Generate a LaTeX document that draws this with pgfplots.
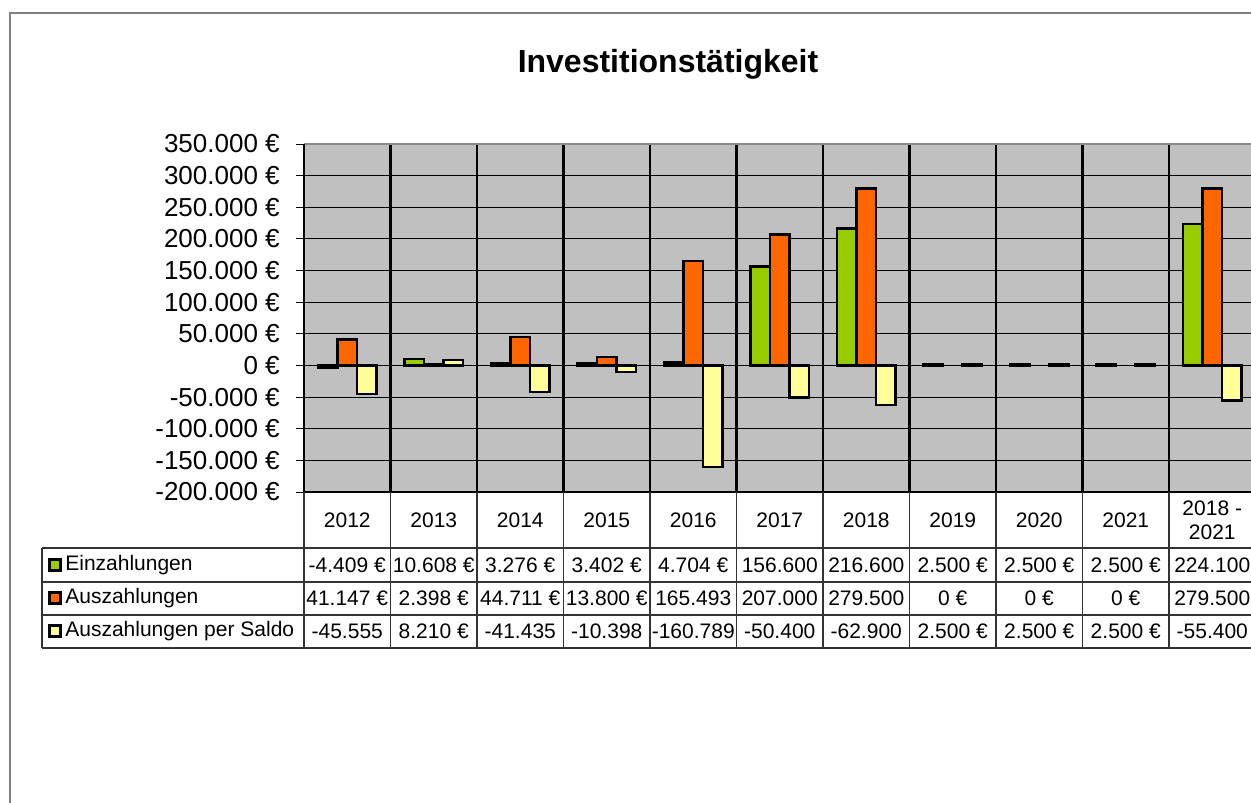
\documentclass[border=0pt]{standalone}
\usepackage{pgfplots}
\pgfplotsset{compat=1.18}
\usepackage{fontspec}
\setmainfont{Liberation Sans}
\definecolor{einz}{RGB}{153,204,0}
\definecolor{ausz}{RGB}{255,102,0}
\definecolor{saldo}{RGB}{255,255,153}
\definecolor{plotbg}{RGB}{192,192,192}
\begin{document}
\begin{tikzpicture}
\useasboundingbox (0pt,0pt) rectangle (750.6pt,-481.8pt);
\clip (0pt,0pt) rectangle (750.6pt,-481.8pt);
\begin{axis}[
  scale only axis,
  width=570.9pt, height=208.8pt,
  at={(182.4pt,-295.2pt)}, anchor=south west,
  xmin=-0.5, xmax=10.5,
  ymin=-200000, ymax=350000,
  scaled y ticks=false,
  ybar=0pt, bar width=11.7pt,
  axis line style={draw=none},
  axis background/.style={fill=plotbg},
  xtick={-0.5,0.5,1.5,2.5,3.5,4.5,5.5,6.5,7.5,8.5,9.5,10.5},
  xticklabels={},
  xtick style={draw=none},
  xmajorgrids,
  x grid style={black, line width=1.3pt},
  ytick={-200000,-150000,-100000,-50000,0,50000,100000,150000,200000,250000,300000,350000},
  yticklabels={-200.000 €,-150.000 €,-100.000 €,-50.000 €,0 €,50.000 €,100.000 €,150.000 €,200.000 €,250.000 €,300.000 €,350.000 €},
  ymajorgrids,
  y grid style={black, line width=0.6pt},
  ytick pos=left,
  tick align=outside,
  major tick length=4.8pt,
  ytick style={black, line width=0.6pt},
  yticklabel style={font=\fontsize{15.6}{18}\selectfont, inner sep=0pt, xshift=-9.6pt},
]
\addplot[fill=einz, draw=black, line width=1.4pt] coordinates {
  (0,-4409) (1,10608) (2,3276) (3,3402) (4,4704) (5,156600) (6,216600)
  (7,2500) (8,2500) (9,2500) (10,224100)};
\addplot[fill=ausz, draw=black, line width=1.4pt] coordinates {
  (0,41147) (1,2398) (2,44711) (3,13800) (4,165493) (5,207000) (6,279500)
  (10,279500)};
\addplot[fill=saldo, draw=black, line width=1.4pt] coordinates {
  (0,-45555) (1,8210) (2,-41435) (3,-10398) (4,-160789) (5,-50400) (6,-62900)
  (7,2500) (8,2500) (9,2500) (10,-55400)};
\end{axis}

\begin{scope}[x=0.6pt, y=-0.6pt]
% outer frame and title
\draw[gray, line width=1.2pt] (10,810) -- (10,13) -- (1260,13);
\node[font=\bfseries\fontsize{19.2}{22}\selectfont] at (668,64) {Investitionstätigkeit};
% plot area border
\draw[black!45, line width=1pt] (304,144) -- (1260,144);
\draw[black, line width=1pt] (304,144) -- (304,492);
\draw[black, line width=1.1pt] (304,492) -- (1260,492);
% data table
\draw[black!80, line width=0.7pt] (304,492) -- (304,648);
\foreach \i in {1,...,11}
  \draw[black!80, line width=0.7pt] ({304+86.5*\i},492) -- ({304+86.5*\i},648);
\foreach \yy in {548,582,615,648}
  \draw[black!80, line width=0.7pt] (42,\yy) -- (1260,\yy);
\draw[black!80, line width=0.7pt] (42,548) -- (42,648);
% header
\foreach \t [count=\i from 0] in {2012,2013,2014,2015,2016,2017,2018,2019,2020,2021}
  \node[font=\fontsize{12.6}{14}\selectfont, inner sep=0pt] at ({347.25+86.5*\i},520) {\t};
\node[font=\fontsize{12.6}{14.5}\selectfont, inner sep=0pt, align=center] at ({347.25+86.5*10},520) {2018 -\\2021};
% legend keys
\foreach \c/\yy/\t in {einz/565/Einzahlungen, ausz/598/Auszahlungen, saldo/631/Auszahlungen per Saldo}{
  \draw[black, line width=1.3pt, fill=\c] (49.5,\yy-5.5) rectangle (60.5,\yy+5.5);
  \node[font=\fontsize{12.6}{14}\selectfont, inner sep=0pt, anchor=west] at (65,\yy) {\t};
}
% values
\foreach \t [count=\i from 0] in {-4.409 €,10.608 €,3.276 €,3.402 €,4.704 €,156.600,216.600,2.500 €,2.500 €,2.500 €,224.100}
  \node[font=\fontsize{12.6}{14}\selectfont, inner sep=0pt] at ({347.25+86.5*\i},565) {\t};
\foreach \t [count=\i from 0] in {41.147 €,2.398 €,44.711 €,13.800 €,165.493,207.000,279.500,0 €,0 €,0 €,279.500}
  \node[font=\fontsize{12.6}{14}\selectfont, inner sep=0pt] at ({347.25+86.5*\i},598) {\t};
\foreach \t [count=\i from 0] in {-45.555,8.210 €,-41.435,-10.398,-160.789,-50.400,-62.900,2.500 €,2.500 €,2.500 €,-55.400}
  \node[font=\fontsize{12.6}{14}\selectfont, inner sep=0pt] at ({347.25+86.5*\i},631) {\t};
\end{scope}
\end{tikzpicture}
\end{document}
